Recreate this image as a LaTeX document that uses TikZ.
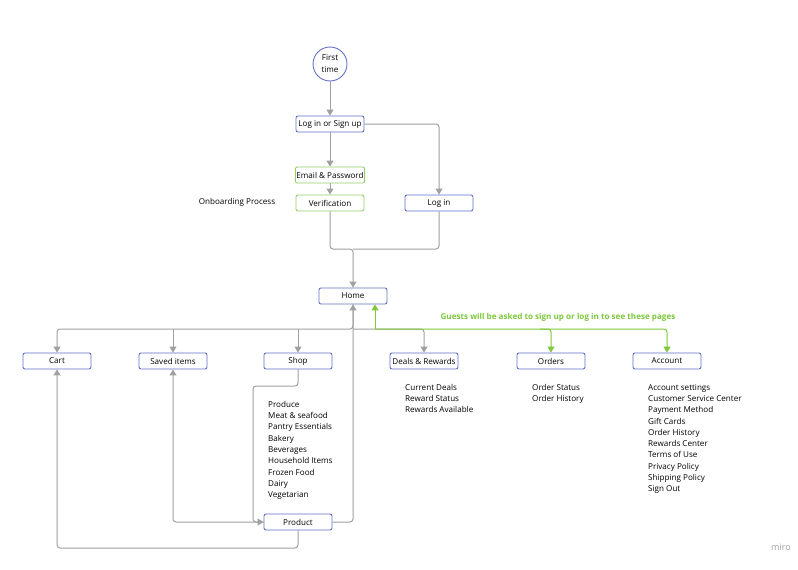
\documentclass[tikz,border=0pt]{standalone}
\usepackage{fontspec}
\setmainfont{Open Sans}
\usetikzlibrary{arrows.meta,positioning}
\definecolor{boxblue}{RGB}{100,110,200}
\definecolor{boxgreen}{RGB}{150,205,105}
\definecolor{linegray}{RGB}{160,160,160}
\definecolor{guestgreen}{RGB}{125,200,60}
\tikzset{
  page/.style={draw=boxblue,line width=0.9pt,rounded corners=2pt,minimum width=68pt,minimum height=16pt,font=\fontsize{8.1}{8}\selectfont,inner sep=1pt},
  onboard/.style={page,draw=boxgreen},
  list/.style={align=left,anchor=north west,font=\fontsize{8.1}{11.3}\selectfont,inner sep=0pt},
  flow/.style={draw=linegray,line width=1pt,rounded corners=3pt,-{Triangle[length=6pt,width=7pt]}},
  guest/.style={flow,draw=guestgreen,-{Triangle[length=6pt,width=7pt,fill=guestgreen]}}
}
\begin{document}
\begin{tikzpicture}[x=1pt,y=-1pt]
\useasboundingbox (0,0) rectangle (798,570);

        \node[circle,draw=boxblue,line width=0.9pt,minimum size=34pt,align=center,inner sep=0pt,font=\fontsize{8.1}{12}\selectfont] (first) at (330,64) {First\\time};
        \node[page] (login)  at (330,124) {Log in or Sign up};
        \node[onboard] (email) at (330,175) {Email \& Password};
        \node[onboard] (verif) at (330,203) {Verification};
        \node[page] (log)    at (439,203) {Log in};
        \node[font=\fontsize{8.1}{8}\selectfont] (onb) at (237,202) {Onboarding Process};
        \node[page] (home)   at (353,296) {Home};

        \node[page] (cart)   at (57,361)  {Cart};
        \node[page] (saved)  at (173,361) {Saved items};
        \node[page] (shop)   at (298,361) {Shop};
        \node[page] (deals)  at (424,361) {Deals \& Rewards};
        \node[page] (orders) at (551,361) {Orders};
        \node[page] (acct)   at (667,361) {Account};
        \node[page] (prod)   at (298,522) {Product};

        \node[font=\fontsize{8.1}{8}\selectfont\bfseries,text=guestgreen] (guests) at (558,317) {Guests will be asked to sign up or log in to see these pages};

        \node[list] (shoplist) at (268,401) {Produce\\Meat \& seafood\\Pantry Essentials\\Bakery\\Beverages\\Household Items\\Frozen Food\\Dairy\\Vegetarian};
        \node[list] (dealslist) at (405,384) {Current Deals\\Reward Status\\Rewards Available};
        \node[list] (orderlist) at (532,384) {Order Status\\Order History};
        \node[list] (acctlist) at (648,384) {Account settings\\Customer Service Center\\Payment Method\\Gift Cards\\Order History\\Rewards Center\\Terms of Use\\Privacy Policy\\Shipping Policy\\Sign Out};

        \node[text=linegray,font=\fontsize{9}{10}\selectfont] (miro) at (781,547) {miro};

        % onboarding
        \draw[flow] (first) -- (login);
        \draw[flow] (login) -- (email);
        \draw[flow] (email) -- (verif);
        \draw[flow] (login.east) -| (log);
        \draw[flow] (verif.south) |- (353,249) -- (home.north);
        \draw[flow,-] (log.south) |- (353,249);

        % home to pages
        \draw[flow] (home.south) |- (57,329) -- (cart.north);
        \draw[flow] (173,329) -- (saved.north);
        \draw[flow] (298,329) -- (shop.north);
        \draw[flow] (353,329) -| (deals.north);
        \draw[guest] (375,329) -- (home.south -| 375,0);
        \draw[guest] (375,329) -| (orders.north);
        \draw[guest] (540,329) -| (acct.north);

        % product
        \draw[flow] (shop.south) |- (253,386) |- (prod.west);
        \draw[flow] (prod.west) -| (saved.south);
        \draw[flow] (prod.east) -| (home.south);
        \draw[flow] (prod.south) |- (57,548) -- (cart.south);

\end{tikzpicture}
\end{document}
